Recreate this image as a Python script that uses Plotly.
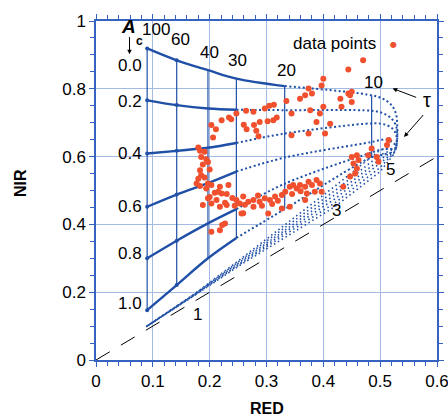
import plotly.graph_objects as go

# ---------------- data ----------------
tau_labels = [100, 60, 40, 30, 20, 10]
tau_red = [0.090, 0.142, 0.197, 0.247, 0.332, 0.485]

ac_labels = ["0.0", "0.2", "0.4", "0.6", "0.8", "1.0"]
ac_label_nir = [0.869, 0.764, 0.609, 0.452, 0.314, 0.167]

# NIR of each constant-Ac curve at the tau nodes above
nir_ac00 = [0.919, 0.884, 0.855, 0.830, 0.808, 0.781]
nir_ac02 = [0.766, 0.752, 0.742, 0.738, 0.737, 0.735]
nir_ac04 = [0.609, 0.617, 0.626, 0.640, 0.668, 0.698]
nir_ac06 = [0.452, 0.488, 0.522, 0.556, 0.597, 0.643]
nir_ac08 = [0.300, 0.352, 0.403, 0.445, 0.520, 0.612]
nir_ac10 = [0.147, 0.221, 0.300, 0.360, 0.445, 0.598]

# bend of each curve for tau < 10 (RED, NIR)
bend_red_ac00 = [0.505, 0.520, 0.528, 0.530, 0.530, 0.528]
bend_nir_ac00 = [0.770, 0.752, 0.725, 0.690, 0.655, 0.625]
bend_red_ac02 = [0.505, 0.520, 0.528, 0.530, 0.528]
bend_nir_ac02 = [0.728, 0.712, 0.690, 0.660, 0.625]
bend_red_ac04 = [0.505, 0.520, 0.528, 0.529, 0.527]
bend_nir_ac04 = [0.696, 0.685, 0.665, 0.640, 0.620]
bend_red_ac06 = [0.505, 0.520, 0.527, 0.526]
bend_nir_ac06 = [0.650, 0.645, 0.632, 0.615]
bend_red_ac08 = [0.505, 0.520, 0.525]
bend_nir_ac08 = [0.622, 0.622, 0.612]
bend_red_ac10 = [0.505, 0.520, 0.523]
bend_nir_ac10 = [0.606, 0.610, 0.605]

# return branch (small tau) back toward the background point
low_red = [0.500, 0.420, 0.330, 0.250, 0.174, 0.088]
low_nir_ac00 = [0.620, 0.512, 0.395, 0.292, 0.196, 0.098]
low_nir_ac02 = [0.605, 0.499, 0.388, 0.288, 0.195, 0.098]
low_nir_ac04 = [0.592, 0.487, 0.381, 0.285, 0.194, 0.098]
low_nir_ac06 = [0.580, 0.475, 0.374, 0.282, 0.193, 0.098]
low_nir_ac08 = [0.568, 0.463, 0.367, 0.279, 0.192, 0.098]
low_nir_ac10 = [0.556, 0.452, 0.360, 0.276, 0.191, 0.098]

soil_red = [0.0, 0.6]
soil_nir = [0.0, 0.6]

data_red = [
    0.247, 0.264, 0.277, 0.297, 0.305, 0.313, 0.335, 0.221, 0.234, 0.238, 0.203, 0.211, 0.206,
    0.260, 0.265, 0.278, 0.282, 0.286, 0.288, 0.302, 0.312, 0.318,
    0.180, 0.183, 0.191, 0.185, 0.194, 0.197, 0.188, 0.200, 0.183, 0.185, 0.180, 0.191, 0.177,
    0.183, 0.197, 0.203, 0.194,
    0.218, 0.233, 0.209, 0.221, 0.200, 0.212, 0.227, 0.218, 0.188,
    0.197, 0.203, 0.215, 0.230, 0.247, 0.253, 0.256, 0.227, 0.222, 0.203, 0.218, 0.303,
    0.259, 0.268, 0.277, 0.288, 0.297, 0.306, 0.315, 0.327, 0.333, 0.341, 0.347, 0.353, 0.359,
    0.368, 0.374, 0.380, 0.388, 0.394, 0.397, 0.385, 0.371, 0.368, 0.341, 0.327, 0.259, 0.277,
    0.435, 0.447, 0.456, 0.459, 0.453, 0.450, 0.459, 0.462, 0.485, 0.479, 0.494, 0.497, 0.512,
    0.515, 0.344, 0.374, 0.403,
    0.444, 0.470, 0.400, 0.397, 0.374, 0.368, 0.380, 0.359, 0.444, 0.450, 0.447, 0.430, 0.450,
    0.400, 0.394, 0.432, 0.344, 0.377, 0.412, 0.388,
    0.240, 0.262, 0.292, 0.310, 0.320, 0.345, 0.360, 0.230, 0.244, 0.285,
]
data_nir = [
    0.727, 0.735, 0.732, 0.742, 0.750, 0.753, 0.764, 0.707, 0.715, 0.710, 0.693, 0.681, 0.656,
    0.694, 0.681, 0.693, 0.676, 0.660, 0.702, 0.704, 0.707, 0.715,
    0.627, 0.617, 0.614, 0.599, 0.592, 0.584, 0.577, 0.562, 0.560, 0.545, 0.535, 0.538, 0.521,
    0.513, 0.521, 0.516, 0.506,
    0.511, 0.516, 0.493, 0.491, 0.481, 0.472, 0.464, 0.452, 0.457,
    0.477, 0.462, 0.496, 0.457, 0.472, 0.462, 0.432, 0.403, 0.398, 0.378, 0.383, 0.432,
    0.482, 0.467, 0.472, 0.467, 0.477, 0.472, 0.482, 0.487, 0.496, 0.511, 0.516, 0.506, 0.516,
    0.511, 0.526, 0.516, 0.531, 0.521, 0.496, 0.496, 0.491, 0.472, 0.452, 0.447, 0.433, 0.452,
    0.511, 0.541, 0.550, 0.565, 0.580, 0.599, 0.604, 0.590, 0.624, 0.604, 0.599, 0.585, 0.634,
    0.649, 0.663, 0.668, 0.668,
    0.857, 0.884, 0.830, 0.810, 0.801, 0.781, 0.786, 0.771, 0.786, 0.791, 0.781, 0.771, 0.761,
    0.747, 0.727, 0.747, 0.727, 0.737, 0.697, 0.702,
    0.478, 0.458, 0.455, 0.460, 0.470, 0.490, 0.498, 0.490, 0.455, 0.485,
]

# ---------------- styling ----------------
FONT = "Liberation Sans, Arial, sans-serif"
CURVE = "#1f4fa6"
AXIS = "#3563bf"
GRID = "#a3bbe3"
RED = "#f0502e"

nir_sets = [nir_ac00, nir_ac02, nir_ac04, nir_ac06, nir_ac08, nir_ac10]
bend_red_sets = [bend_red_ac00, bend_red_ac02, bend_red_ac04, bend_red_ac06, bend_red_ac08, bend_red_ac10]
bend_nir_sets = [bend_nir_ac00, bend_nir_ac02, bend_nir_ac04, bend_nir_ac06, bend_nir_ac08, bend_nir_ac10]
low_sets = [low_nir_ac00, low_nir_ac02, low_nir_ac04, low_nir_ac06, low_nir_ac08, low_nir_ac10]

fig = go.Figure()

# soil line
fig.add_trace(go.Scatter(x=soil_red, y=soil_nir, mode="lines",
                         line=dict(color="black", width=1, dash="16px,13px"),
                         hoverinfo="skip"))

# vertical constant-tau lines
for i in range(len(tau_red)):
    fig.add_trace(go.Scatter(x=[tau_red[i], tau_red[i]], y=[nir_ac00[i], nir_ac10[i]],
                             mode="lines", line=dict(color=CURVE, width=1.2),
                             hoverinfo="skip"))

for k in range(6):
    split = 5 if k == 0 else 4
    # dense (solid-looking) part
    fig.add_trace(go.Scatter(x=tau_red[:split], y=nir_sets[k][:split], mode="lines",
                             line=dict(color=CURVE, width=2.4, shape="spline", smoothing=1.0),
                             hoverinfo="skip"))
    # dotted part
    xs = tau_red[split - 1:] + bend_red_sets[k]
    ys = nir_sets[k][split - 1:] + bend_nir_sets[k]
    fig.add_trace(go.Scatter(x=xs, y=ys, mode="lines",
                             line=dict(color=CURVE, width=2, dash="2px,2.5px",
                                       shape="spline", smoothing=1.0),
                             hoverinfo="skip"))
    # return branch
    xl = [bend_red_sets[k][-1]] + low_red
    yl = [bend_nir_sets[k][-1]] + low_sets[k]
    fig.add_trace(go.Scatter(x=xl, y=yl, mode="lines",
                             line=dict(color=CURVE, width=1.6, dash="1.5px,3px"),
                             hoverinfo="skip"))

# markers at tau=60 / 100 on the solid curves
fig.add_trace(go.Scatter(x=[tau_red[0]] * 6 + [tau_red[1]] * 6,
                         y=[s[0] for s in nir_sets] + [s[1] for s in nir_sets],
                         mode="markers", marker=dict(color=CURVE, size=4), hoverinfo="skip"))

# data points
fig.add_trace(go.Scatter(x=data_red, y=data_nir, mode="markers",
                         marker=dict(color=RED, size=6), hoverinfo="skip"))

ann = []
def txt(x, y, t, size=17, xanchor="center", **kw):
    ann.append(dict(x=x, y=y, xref="x", yref="y", text=t, showarrow=False,
                    font=dict(family=FONT, size=size, color="black"),
                    xanchor=xanchor, yanchor="middle", **kw))

# tau labels
tau_label_pos = [(0.106, 0.975), (0.149, 0.945), (0.200, 0.906), (0.249, 0.884),
                 (0.335, 0.855), (0.488, 0.820)]
for (lx, ly), t in zip(tau_label_pos, tau_labels):
    txt(lx, ly, str(t))
txt(0.518, 0.562, "5")
txt(0.424, 0.442, "3")
txt(0.178, 0.133, "1")

# Ac labels
for lab, ny in zip(ac_labels, ac_label_nir):
    txt(0.084, ny, lab, xanchor="right")

# A_c with arrow
txt(0.058, 0.985, "<b><i>A</i></b>", size=19)
txt(0.077, 0.942, "<b>c</b>", size=12)
ann.append(dict(x=0.059, y=0.902, ax=0.059, ay=0.957, xref="x", yref="y", axref="x", ayref="y",
                showarrow=True, arrowhead=2, arrowsize=0.9, arrowwidth=1, arrowcolor="black", text=""))

# tau symbol and arrows
txt(0.583, 0.766, "τ", size=20)
ann.append(dict(x=0.522, y=0.801, ax=0.566, ay=0.773, xref="x", yref="y", axref="x", ayref="y",
                showarrow=True, arrowhead=2, arrowsize=0.9, arrowwidth=1, arrowcolor="black", text=""))
ann.append(dict(x=0.542, y=0.658, ax=0.578, ay=0.727, xref="x", yref="y", axref="x", ayref="y",
                showarrow=True, arrowhead=2, arrowsize=0.9, arrowwidth=1, arrowcolor="black", text=""))

# legend text + symbol
txt(0.420, 0.935, "data points", size=17)
ann.append(dict(x=0.523, y=0.932, xref="x", yref="y", text="●", showarrow=False,
                font=dict(family="DejaVu Sans", size=8, color=RED), xanchor="center", yanchor="middle"))

# axis titles
ann.append(dict(x=0.5, y=-0.143, xref="paper", yref="paper", text="<b>RED</b>", showarrow=False,
                font=dict(family=FONT, size=16, color="black"), xanchor="center", yanchor="middle"))
ann.append(dict(x=-0.223, y=0.522, xref="paper", yref="paper", text="<b>NIR</b>", showarrow=False,
                textangle=-90, font=dict(family=FONT, size=16, color="black"),
                xanchor="center", yanchor="middle"))

axis_common = dict(showgrid=True, gridcolor=GRID, gridwidth=1, showline=True, linecolor=AXIS,
                   linewidth=1.5, mirror="allticks", ticks="outside", ticklen=5, tickcolor=AXIS,
                   tickwidth=1, zeroline=False, automargin=False, ticklabeloverflow="allow",
                   tickfont=dict(family=FONT, size=17, color="black"))

fig.update_layout(
    width=448, height=417,
    margin=dict(l=96, r=11, t=21, b=57),
    paper_bgcolor="white", plot_bgcolor="white",
    showlegend=False,
    annotations=ann,
    xaxis=dict(range=[0, 0.6], dtick=0.1, tick0=0,
               minor=dict(dtick=0.02, ticks="outside", ticklen=4, tickcolor=AXIS, showgrid=False),
               **axis_common),
    yaxis=dict(range=[0, 1], dtick=0.2, tick0=0,
               minor=dict(dtick=0.05, ticks="outside", ticklen=4, tickcolor=AXIS, showgrid=False),
               **axis_common),
)

fig.write_html("out.html", config={"displayModeBar": False},
               post_script="document.body.style.margin='0px';document.body.style.overflow='hidden';")
